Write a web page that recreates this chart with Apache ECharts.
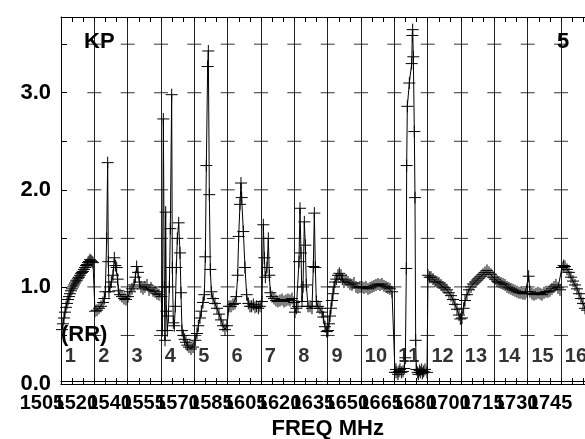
<!DOCTYPE html>
<html>
<head>
<meta charset="utf-8">
<script src="https://cdn.jsdelivr.net/npm/echarts@6/dist/echarts.min.js"></script>
<style>
html, body { margin: 0; padding: 0; background: #fff; }
#chart { width: 585px; height: 439px; }
</style>
</head>
<body>
<div id="chart"></div>
<script>
// frequency labels under each band, band numbers inside the plot
var freqLabels = ['1505', '1520', '1540', '1555', '1570', '1585', '1605', '1620', '1635', '1650', '1665', '1680', '1700', '1715', '1730', '1745'];
var bandNames = ['1', '2', '3', '4', '5', '6', '7', '8', '9', '10', '11', '12', '13', '14', '15', '16'];
var yTicks = [0.5, 1.0, 1.5, 2.0, 2.5, 3.0, 3.5];

// channel index (100 channels per band) and KP ratio
var channel = [
    3, 6, 9, 12, 15, 18, 21, 24, 27, 30, 33, 36, 39, 42, 45, 48, 51, 54, 57, 60, 63, 66, 69, 72, 75, 78, 81, 84, 87, 90, 93, 96,
    102, 108, 114, 120, 126, 130, 133, 137, 140, 142, 144, 147, 151, 156, 160, 163, 167, 170, 172, 177, 183, 189, 195,
    201, 207, 213, 219, 223, 227, 231, 235, 240, 246, 252, 258, 264, 270, 276, 282, 288, 294,
    301, 304, 307, 310, 312, 314, 316, 319, 322, 325, 328, 332, 334, 337, 340, 343, 346, 349, 353, 357, 360, 363, 367, 371, 375, 379, 384, 390, 396,
    403, 408, 412, 417, 421, 426, 430, 433, 436, 440, 442, 445, 448, 451, 456, 462, 468, 474, 480, 486, 492, 498,
    504, 510, 516, 522, 526, 530, 533, 537, 540, 542, 547, 552, 557, 562, 567, 572, 577, 582, 587, 592, 597,
    603, 607, 610, 613, 618, 622, 625, 628, 633, 639, 645, 651, 657, 663, 669, 675, 681, 687, 693, 699,
    702, 706, 711, 714, 717, 720, 723, 726, 730, 733, 736, 741, 747, 753, 757, 760, 763, 766, 771, 777, 783, 787, 792, 797,
    801, 804, 807, 810, 813, 816, 819, 822, 826, 831, 835, 840, 844, 849, 855, 861, 867, 873, 879, 885, 891, 897,
    903, 909, 915, 921, 927, 933, 939, 945, 951, 957, 963, 969, 975, 981, 987, 993,
    1002, 1005, 1008, 1011, 1014, 1017, 1021, 1026, 1030, 1033, 1036, 1037, 1039, 1045, 1052, 1054, 1055, 1057, 1060, 1062, 1064, 1066, 1070, 1072, 1076, 1078, 1082, 1084, 1088, 1092, 1098,
    1101, 1106, 1110, 1116, 1122, 1128, 1134, 1140, 1146, 1152, 1158, 1164, 1170, 1176, 1182, 1188, 1194, 1198,
    1203, 1208, 1212, 1218, 1224, 1230, 1236, 1242, 1248, 1254, 1260, 1266, 1272, 1278, 1284, 1290, 1296,
    1302, 1308, 1314, 1320, 1326, 1332, 1338, 1344, 1350, 1356, 1362, 1368, 1374, 1380, 1386, 1392, 1398,
    1403, 1407, 1413, 1419, 1425, 1431, 1437, 1443, 1449, 1455, 1461, 1467, 1473, 1479, 1485, 1491, 1497,
    1503, 1508, 1512, 1518, 1524, 1530, 1536, 1542, 1548, 1554, 1560, 1566, 1572, 1578, 1587, 1596
];
var kp = [
    0.56, 0.62, 0.68, 0.74, 0.79, 0.83, 0.87, 0.90, 0.93, 0.96, 0.98, 1.00, 1.02, 1.04, 1.06, 1.07, 1.09, 1.10, 1.12, 1.14, 1.15, 1.16, 1.18, 1.20, 1.22, 1.23, 1.25, 1.26, 1.28, 1.27, 1.26, 1.25,
    0.75, 0.76, 0.78, 0.80, 0.84, 0.88, 0.95, 1.50, 2.28, 1.26, 0.95, 1.00, 1.05, 1.12, 1.30, 1.22, 1.20, 1.08, 0.96, 0.92, 0.90, 0.88, 0.87,
    0.90, 0.95, 0.98, 1.02, 1.10, 1.21, 1.15, 1.05, 1.00, 0.98, 1.00, 1.02, 0.97, 0.99, 0.96, 0.95, 0.93, 0.92,
    0.90, 0.55, 2.73, 1.00, 0.45, 1.77, 0.75, 0.55, 0.70, 1.00, 1.60, 2.98, 1.20, 0.63, 0.60, 0.80, 1.20, 1.50, 1.66, 1.35, 0.94, 0.55, 0.50, 0.46, 0.43, 0.40, 0.38, 0.36, 0.38,
    0.45, 0.52, 0.60, 0.68, 0.75, 0.84, 0.92, 1.31, 2.25, 3.27, 3.43, 1.95, 1.18, 0.95, 0.88, 0.83, 0.78, 0.72, 0.66, 0.60, 0.56, 0.60,
    0.80, 0.80, 0.82, 0.83, 0.90, 1.12, 1.52, 1.85, 2.07, 1.92, 1.57, 1.20, 0.92, 0.83, 0.80, 0.80, 0.82, 0.79, 0.80, 0.78, 0.80,
    0.85, 1.64, 1.30, 1.10, 1.20, 1.50, 1.12, 0.94, 0.90, 0.88, 0.86, 0.85, 0.86, 0.87, 0.85, 0.86, 0.87, 0.86, 0.88, 0.84,
    0.74, 0.78, 0.80, 1.26, 1.81, 1.35, 0.85, 1.00, 1.67, 1.43, 1.02, 0.80, 0.80, 0.78, 1.21, 1.76, 1.20, 0.85, 0.80, 0.78, 0.74, 0.69, 0.59, 0.54,
    0.55, 0.62, 0.70, 0.78, 0.86, 0.93, 1.00, 1.05, 1.08, 1.12, 1.14, 1.12, 1.08, 1.05, 1.07, 1.05, 1.03, 1.02, 1.04, 1.00, 0.99, 1.00,
    1.00, 0.99, 1.00, 0.98, 0.99, 1.00, 1.01, 1.02, 1.03, 1.02, 1.03, 1.01, 1.00, 0.99, 0.98, 0.95,
    0.12, 0.15, 0.12, 0.10, 0.13, 0.15, 0.12, 0.13, 0.16, 0.27, 1.19, 2.25, 2.86, 3.10, 3.30, 3.59, 3.65, 3.37, 2.60, 1.92, 0.45, 0.15, 0.12, 0.10, 0.14, 0.12, 0.15, 0.11, 0.13, 0.15, 0.12,
    1.12, 1.10, 1.10, 1.08, 1.06, 1.05, 1.04, 1.02, 1.00, 0.99, 0.97, 0.94, 0.91, 0.87, 0.82, 0.77, 0.71, 0.67,
    0.68, 0.78, 0.86, 0.92, 0.97, 1.00, 1.03, 1.05, 1.07, 1.09, 1.11, 1.13, 1.15, 1.17, 1.15, 1.13, 1.10,
    1.08, 1.06, 1.05, 1.04, 1.03, 1.02, 1.00, 0.99, 0.98, 0.97, 0.96, 0.95, 0.94, 0.94, 0.93, 0.93, 0.95,
    1.11, 0.95, 0.93, 0.92, 0.93, 0.94, 0.93, 0.92, 0.94, 0.95, 0.95, 0.96, 0.98, 1.00, 1.02, 0.99, 0.97,
    1.20, 1.22, 1.21, 1.18, 1.15, 1.10, 1.06, 1.02, 0.98, 0.93, 0.88, 0.83, 0.78, 0.76, 0.78, 0.80
];

var FONT = "'Liberation Sans', Arial, sans-serif";

// one label axis per parity, so overlapping neighbours are not dropped
function freqAxis(parity, withName) {
    var vals = [];
    for (var i = parity; i < freqLabels.length; i += 2) vals.push(i);
    var ax = {
        type: 'value',
        min: -0.0945,
        max: 15.651,
        position: 'bottom',
        axisLine: { show: false },
        axisTick: { show: false },
        splitLine: { show: false },
        axisLabel: {
            show: true,
            customValues: vals,
            showMinLabel: true,
            showMaxLabel: true,
            hideOverlap: false,
            align: 'right',
            margin: 9,
            fontFamily: FONT,
            fontSize: 20,
            fontWeight: 'bold',
            color: '#000',
            formatter: function (v) { return freqLabels[Math.round(v)]; }
        }
    };
    if (withName) {
        ax.name = 'FREQ MHz';
        ax.nameLocation = 'middle';
        ax.nameGap = 34;
        ax.nameTextStyle = { fontFamily: FONT, fontSize: 22, fontWeight: 'bold', color: '#000' };
    }
    return ax;
}

function initChart() {
    var chart = echarts.init(document.getElementById('chart'));

    var kpData = channel.map(function (c, i) { return [c, kp[i]]; });

    // short cross bars where the band lines meet the y ticks
    var crossData = [];
    for (var k = 1; k < bandNames.length; k++) {
        for (var j = 0; j < yTicks.length; j++) {
            crossData.push([k * 100, yTicks[j]]);
        }
    }
    var bandData = bandNames.map(function (b, i) { return [i * 100 + 10, 0.28]; });

    var option = {
        animation: false,
        backgroundColor: '#fff',
        title: [
            { text: 'KP', left: 84, top: 31, padding: 0, textStyle: { fontFamily: FONT, fontSize: 22, fontWeight: 'bold', color: '#000' } },
            { text: '5', left: 557, top: 31, padding: 0, textStyle: { fontFamily: FONT, fontSize: 22, fontWeight: 'bold', color: '#000' } },
            { text: '(RR)', left: 61, top: 324, padding: 0, textStyle: { fontFamily: FONT, fontSize: 22, fontWeight: 'bold', color: '#000' } }
        ],
        grid: {
            left: 61,
            top: 17,
            width: 533.33,
            height: 367,
            containLabel: false,
            outerBoundsMode: 'none'
        },
        xAxis: [
            {
                // main channel axis, bottom line
                type: 'value',
                min: 0,
                max: 1600,
                interval: 100,
                position: 'bottom',
                offset: 1,
                axisLine: { show: true, lineStyle: { color: '#000', width: 1 } },
                axisTick: { show: true, inside: true, length: 6, lineStyle: { color: '#000' } },
                minorTick: { show: true, splitNumber: 3, length: 6, lineStyle: { color: '#000' } },
                axisLabel: { show: false },
                splitLine: { show: true, lineStyle: { color: '#222', width: 1 } }
            },
            {
                // second bottom line
                type: 'value',
                min: 0,
                max: 1600,
                position: 'bottom',
                offset: -3,
                axisLine: { show: true, lineStyle: { color: '#000', width: 1 } },
                axisTick: { show: false },
                axisLabel: { show: false },
                splitLine: { show: false }
            },
            {
                type: 'value',
                min: 0,
                max: 1600,
                interval: 100,
                position: 'top',
                axisLine: { show: true, lineStyle: { color: '#000', width: 1 } },
                axisTick: { show: true, inside: true, length: 5, lineStyle: { color: '#000' } },
                minorTick: { show: true, splitNumber: 3, length: 5, lineStyle: { color: '#000' } },
                axisLabel: { show: false },
                splitLine: { show: false }
            },
            freqAxis(0, true),
            freqAxis(1, false)
        ],
        yAxis: {
            type: 'value',
            min: 0,
            max: 3.78,
            interval: 0.5,
            axisLine: { show: true, lineStyle: { color: '#000', width: 1 } },
            axisTick: { show: true, inside: true, length: 6, lineStyle: { color: '#000' } },
            splitLine: { show: false },
            axisLabel: {
                margin: 10,
                showMaxLabel: false,
                fontFamily: FONT,
                fontSize: 22,
                fontWeight: 'bold',
                color: '#000',
                formatter: function (v) {
                    return Math.abs(v - Math.round(v)) < 1e-6 ? v.toFixed(1) : '';
                }
            }
        },
        series: [
            {
                name: 'cross',
                type: 'scatter',
                xAxisIndex: 0,
                symbol: 'rect',
                symbolSize: [14, 1],
                itemStyle: { color: '#000' },
                silent: true,
                data: crossData
            },
            {
                name: 'bands',
                type: 'scatter',
                xAxisIndex: 0,
                symbolSize: 1,
                itemStyle: { color: 'rgba(0,0,0,0)' },
                silent: true,
                label: {
                    show: true,
                    position: 'right',
                    distance: 0,
                    fontFamily: FONT,
                    fontSize: 20,
                    fontWeight: 'bold',
                    color: '#000',
                    formatter: function (p) { return bandNames[p.dataIndex]; }
                },
                data: bandData
            },
            {
                name: 'KP',
                type: 'line',
                xAxisIndex: 0,
                symbol: 'path://M0,6H12M6,0V12',
                symbolSize: 12,
                symbolKeepAspect: true,
                itemStyle: { color: '#000', borderColor: '#000', borderWidth: 1 },
                lineStyle: { color: '#000', width: 1 },
                data: kpData
            }
        ]
    };
    chart.setOption(option);
}

initChart();
</script>
</body>
</html>
